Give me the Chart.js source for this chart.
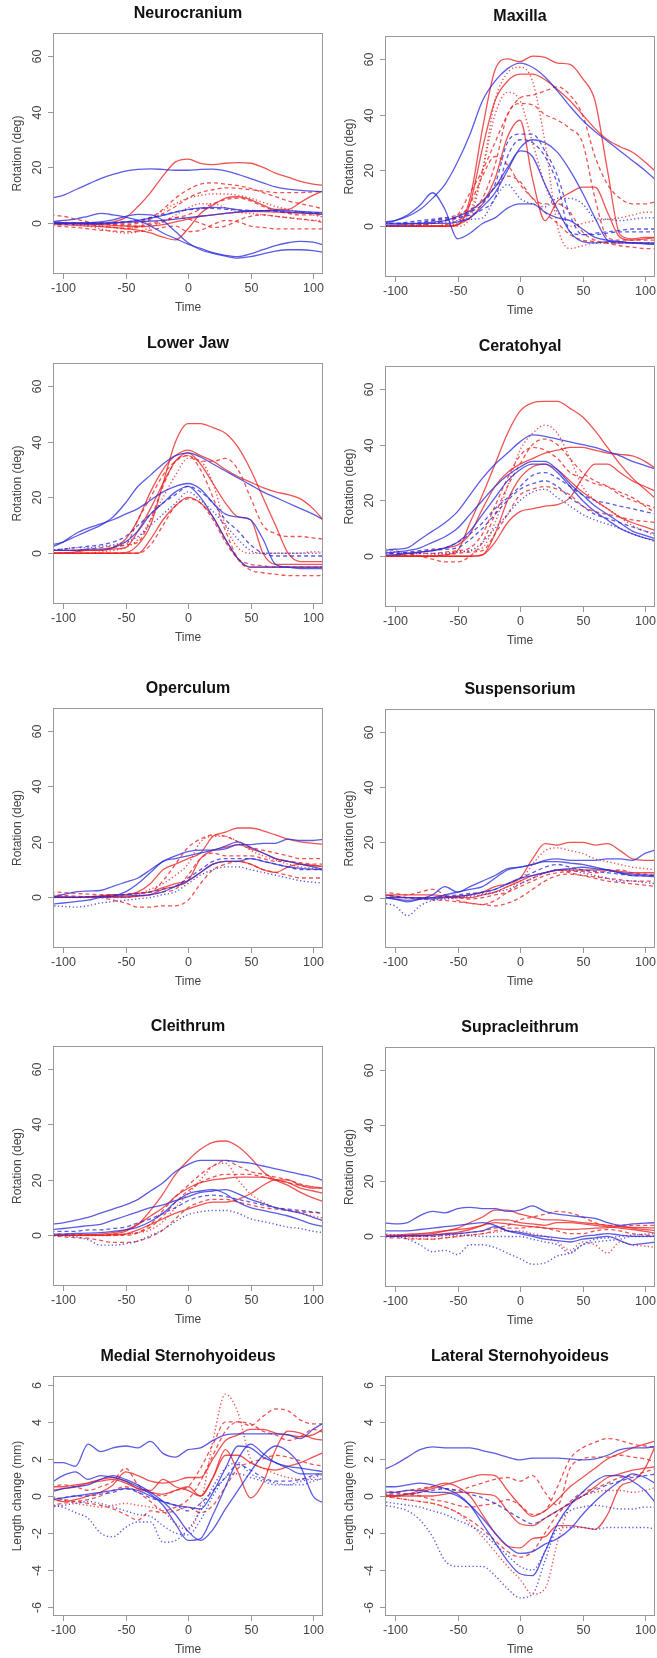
<!DOCTYPE html>
<html>
<head>
<meta charset="utf-8">
<script src="https://cdn.jsdelivr.net/npm/chart.js@4.4.1/dist/chart.umd.min.js"></script>
<style>
  body { margin: 0; background: #fff; }
  #page { position: relative; width: 657px; height: 1658px; overflow: hidden; }
  #page canvas { position: absolute; }
</style>
</head>
<body>
<div id="page"></div>
<script>
// time axis shared by every trace (ms relative to peak gape)
const TIME = [-110, -100, -90, -80, -70, -60, -50, -40, -30, -20, -10, 0, 10, 20, 30, 40, 50, 60, 70, 80, 90, 100, 110];
const TIME_TICKS = [-100, -50, 0, 50, 100];
const ROT_TICKS = [0, 20, 40, 60];
const LEN_TICKS = [-6, -4, -2, 0, 2, 4, 6];

// group codes: R = red fish, B = blue fish; 1/2/3 = individual (solid / dashed / dotted)
const neurocraniumGroups = ['B1', 'B1', 'B1', 'B1', 'B1', 'B2', 'R1', 'R1', 'R1', 'R2', 'R2', 'R2', 'R2', 'R2', 'R3', 'R3'];
const neurocraniumValues = [
  [9, 10, 12, 14, 16, 17.5, 18.7, 19.3, 19.5, 19.3, 19, 19, 19.3, 19.4, 18.8, 17.5, 16, 14.5, 13, 12.2, 11.8, 11.5, 11.3],
  [0.5, 1, 1.5, 2.5, 3.5, 3, 2.2, 1, -1, -3.5, -5.5, -7.5, -9, -10.5, -11.5, -12, -11, -9.5, -8, -7, -6.5, -6.8, -8],
  [0, 0, 0, 0.2, 0.5, 1.2, 2.5, 3.2, 3, 1, -3, -7, -9.5, -10.8, -11.8, -12.5, -12, -11, -10, -9.5, -9.5, -9.8, -10.5],
  [0, 0, -0.2, -0.3, -0.3, 0, 0.5, 1, 1.8, 2.8, 4, 5, 5.5, 5.7, 5.5, 4.8, 4.3, 4.5, 4.8, 4.5, 4.2, 4, 3.8],
  [0, 0, 0, 0, 0, 0.2, 0.4, 0.5, 0.8, 1, 1.5, 2, 2.5, 3, 3.5, 4, 4.5, 4.5, 4.5, 4, 3.8, 3.5, 3],
  [-0.5, -0.5, -0.3, 0, 0, 0.2, 0.5, 1, 2, 3, 4, 4.8, 5.2, 5.3, 5, 4.8, 4.6, 4.5, 4.3, 4, 4, 3.8, 3.6],
  [0, 0, 0, 0, 0, 0.5, 2, 6, 11, 17, 22, 23, 21.5, 21, 21.5, 21.7, 21.5, 20, 18, 16.5, 15, 14, 13.5],
  [-0.5, -0.5, -0.8, -1, -1.2, -1.5, -2, -2.5, -3.5, -5, -6, -2, 3.5, 6.5, 9, 9.5, 8.5, 6.5, 5, 5, 7.5, 10, 12],
  [0.3, 0.2, 0, -0.2, -0.5, -0.8, -1, -1.2, -1, -0.5, 0.5, 1.5, 2.5, 3, 3.5, 4, 4.2, 4.2, 4, 3.8, 3.6, 3.5, 3.3],
  [0, 0, 0, 0, 0, 0, 0, 0.5, 2, 5, 9, 12, 14, 14.5, 14, 13.5, 12.5, 11, 9.5, 8, 7, 6, 5],
  [0, 0, 0, 0, -0.2, -0.5, -0.5, 0, 1.5, 3.5, 6, 9, 11, 12, 12.7, 12.5, 12, 11.5, 11, 11, 11, 11.2, 11.5],
  [0.5, 0.3, 0, -0.5, -1, -1.5, -1.8, -1.5, -0.5, 0.5, 2, 3, 5, 7, 8.5, 9, 8, 6, 4.5, 3.5, 3, 3, 3],
  [-1, -1.2, -1.5, -2, -2.5, -2.8, -3, -3, -2.5, -1.5, -1, -3, -2.5, -0.5, 1, 0.5, -1, -1.5, -2, -2, -2, -2, -2],
  [3, 2.5, 1.5, 0.5, 0, -0.5, -1, -1, 0, 1, 2, 1.5, 0, -1.5, -1, 1, 2.5, 3, 2.5, 2, 1.5, 1, 0],
  [0, 0, -0.3, -0.5, -1, -1.5, -2, -1, 1.5, 4.5, 7, 9, 10, 10.5, 10.5, 10, 9, 7.5, 6, 5, 4, 3, 2],
  [0, 0, -0.5, -1, -2, -3, -3.5, -3, -1.5, 0.5, 3, 5.5, 7, 7, 5.5, 4, 3.5, 3, 2.5, 2, 1.5, 1, 1]
];

const maxillaGroups = ['B1', 'B1', 'B1', 'B1', 'B2', 'B2', 'B3', 'R1', 'R1', 'R1', 'R2', 'R2', 'R2', 'R2', 'R3', 'R3'];
const maxillaValues = [
  [1.5, 2, 3.5, 6, 10, 15, 23, 33, 45, 52, 56.5, 58.5, 57, 53.5, 48.5, 43, 38, 34, 30.5, 27, 23.5, 20, 16],
  [1, 2, 4, 7.5, 12, 6, -4.5, -2.5, 1, 3, 6.5, 8, 8, 5, 3, 2, -1, -4, -5, -5.5, -6, -6.3, -6.5],
  [1, 1, 1, 1, 1, 1, 1.5, 3, 7, 12, 20, 28, 31, 30, 26.5, 20, 12, 3, -5, -6, -6, -6.2, -6.5],
  [0.5, 0.5, 0.8, 1, 1.5, 2, 3.5, 5.5, 9, 14, 21, 27, 25, 15, 6, -2, -5.5, -6, -5.5, -5.5, -6, -6, -6],
  [1, 1, 1.5, 2, 2.5, 3, 3, 5, 8, 15, 30, 33, 33, 27, 18, 4, -3, -3, -2.5, -2, -2, -2, -2],
  [1, 1, 1, 1.5, 2, 2.5, 3, 4, 6, 10, 25, 31, 30, 25, 15, -2, -3, -2.5, -2, -1.5, -1, -1, -1],
  [0, 0, 0, 0.5, 1, 1.5, 2, 2.5, 3, 10, 15, 10, 8, 7, 10, 10, 8, 3, 2.5, 2, 2.5, 3, 3],
  [0, 0, 0, 0, 0, 0, 0.5, 10, 35, 56, 60, 59, 61, 60.5, 58.5, 58, 53, 45, 20, -3, -4.5, -4, -4],
  [0, 0, 0, 0, 0, 0, 0.5, 8, 28, 45, 52, 54.5, 54.5, 52.5, 49, 45, 40, 35, 31, 28.5, 26.5, 23, 19],
  [0, 0, 0, 0, 0, 0, 0.5, 3, 8, 17, 32, 38, 17, 2, 9, 12, 14, 14, 5, -4, -5, -4.5, -4],
  [0, 0, 0, 0.5, 1, 2, 4, 12, 20, 30, 40, 46, 47, 48.5, 50, 47, 40, 25, 15, 10, 8, 8, 9],
  [0, 0, 0, 0, 0, 0.5, 2, 5, 10, 22, 40, 44, 43.5, 40, 38, 35, 30, 10, -4, -5, -5, -5, -5],
  [0, 0, 0.5, 1, 2, 3, 4, 6, 9, 14, 18, 16, 10, 8, 8, 5, -2, -5, -6, -7, -7.5, -8, -8],
  [0, 0, 0, 0.5, 1, 2, 3, 8, 18, 25, 22, 15, 10, 5, 1, -3, -5, -5.5, -6, -6, -6, -6, -6],
  [0, 0, 0, 0, 0, 0, 0, 3, 20, 45, 55, 57, 52, 30, 0, -8, -7, -6, -6, -6, -6, -6, -6],
  [0, 0, 0, 0, 0, 0.5, 1, 5, 20, 40, 48, 45, 30, 15, 5, 0, 1, 2, 2.5, 3, 4, 5, 5]
];

const lowerJawGroups = ['B1', 'B1', 'B1', 'B2', 'B3', 'R1', 'R1', 'R1', 'R1', 'R2', 'R2', 'R2', 'R3'];
const lowerJawValues = [
  [3, 4, 6, 8, 10, 13, 18, 24, 28, 32, 35, 36, 34.5, 32, 29.5, 27, 24.5, 22, 20, 18, 16, 14, 11.5],
  [2, 4, 7, 9, 10.5, 12, 14, 16, 19, 22, 24, 25, 23, 18, 14, 13, 12, 5, -4, -5, -5.5, -5.5, -5.5],
  [1, 1, 1, 1.5, 1.5, 2, 4, 8, 14, 18, 22, 24, 20, 13, 5, -2, -5, -5, -5, -5, -5, -5, -5],
  [1, 1.5, 2, 2.5, 3, 4, 6, 10, 14, 18, 21, 24, 22, 18, 12, 8, 3, 0, -1, -1, -1, -1, -1],
  [1, 1.5, 2, 2, 2.5, 3, 4, 6, 10, 14, 18, 22, 19, 15, 10, 5, 1, 0, 0, 0, 0, 0.5, 0.5],
  [0, 0, 0, 0, 0, 0, 0.2, 3, 10, 25, 40, 46.5, 46.5, 45, 43, 38, 30, 20, 10, 0, -3, -3, -3],
  [1, 1, 1, 1, 1, 2, 5, 12, 22, 30, 35, 37, 35, 33, 30, 27.5, 25.5, 23.5, 22, 21, 19.5, 16, 11],
  [0, 0, 0, 0, 0, 0, 0, 0, 5, 12, 17, 20, 18, 13, 5, -2, -5, -5, -5, -5, -5, -5, -5],
  [0, 0, 0.5, 1, 1, 1.5, 2, 8, 16, 25, 33, 36, 32, 25, 18, 13, 12, 0, -4, -4, -4, -4, -4],
  [1, 1, 1, 1.5, 2, 2.5, 3, 12, 20, 28, 33, 35, 33, 33, 34, 30, 20, 10, 7, 6, 6, 5.5, 5],
  [1, 1, 1, 1, 1, 2, 3, 4, 12, 24, 33, 35, 30, 20, 8, -2, -6, -7, -7.5, -8, -8, -8, -8],
  [0, 0, 0, 0, 0, 0, 0, 0, 3, 10, 17, 19.5, 18, 12, 4, -2, -4, -4.5, -5, -5, -5, -5, -5],
  [0, 0, 0, 0, 0.5, 1, 2, 5, 12, 20, 28, 34, 33, 25, 10, 2, 0, 0, 0, 0, 0, 0, 0]
];

const ceratohyalGroups = ['B1', 'B1', 'B1', 'B2', 'B2', 'B3', 'R1', 'R1', 'R1', 'R1', 'R2', 'R2', 'R2', 'R3'];
const ceratohyalValues = [
  [2, 2.5, 3, 6, 9, 12, 16, 22, 28, 33, 37, 41, 43.5, 43, 42, 41, 40, 39, 37.5, 36, 34, 32.5, 31],
  [1, 1.5, 2, 3, 5, 7, 10, 15, 20, 25, 29, 32, 34, 34, 31, 26, 22, 18, 15, 12, 9, 7.5, 6],
  [0.5, 0.5, 1, 1.5, 2, 3, 5, 9, 15, 21, 27, 31, 33, 33, 30, 25, 20, 16, 13, 10, 8, 6.5, 5.5],
  [1, 1, 1.5, 2, 2.5, 3, 5, 8, 12, 17, 21, 25, 29, 30, 28, 25, 22, 20, 19, 18, 17, 16, 15],
  [1, 1, 1, 1.5, 2, 2.5, 3, 6, 10, 15, 20, 24, 26, 27, 25, 21, 18, 15, 13.5, 12, 10.5, 9, 8],
  [1.5, 1.5, 1, 1, 1, 1, 1.5, 2, 5, 10, 15, 20, 23, 24, 21, 18, 15, 13, 11.5, 10, 8, 6.5, 5],
  [0, 0, 0, 0, 0, 0.5, 2, 12, 22, 33, 44, 52, 55, 55.5, 55.5, 53, 50, 45, 39, 33, 28, 24, 20],
  [0, 0.5, 1, 1.5, 2, 3, 4, 8, 17, 25, 30, 33, 35, 37, 38, 39, 39, 38, 37, 36.5, 36, 34, 31],
  [0, 0, 0, 0, 0, 0, 0, 0, 0.5, 5, 12, 16, 17, 18, 18.5, 21, 28, 33, 33, 30, 27, 25, 23],
  [0, 0, 0, 0, 0, 0, 0, 0, 0.5, 8, 20, 28, 32, 33, 31, 27, 23, 20, 17, 14, 12, 10.5, 9],
  [3, 2, 1, 0, -1, -2, -2, 0, 5, 15, 25, 33, 40, 42, 40, 35, 30, 27, 25, 22, 20, 18.5, 17],
  [0, 0, 0.5, 1, 1, 1.5, 2, 3, 8, 18, 28, 36, 39, 38, 35, 30, 28, 26, 25, 23, 21, 18, 15],
  [0, 0, 0, 0, 0, 0.5, 1, 1.5, 2, 8, 15, 22, 24, 25, 24, 22, 18, 16, 15, 14, 13, 12.5, 12],
  [0, 0, 0, 0, 0.5, 1, 1.5, 2, 3, 12, 25, 38, 44, 47, 44, 35, 25, 20, 17, 14, 11, 9, 7]
];

const operculumGroups = ['B1', 'B1', 'B1', 'B2', 'B3', 'R1', 'R1', 'R1', 'R2', 'R2', 'R2', 'R3'];
const operculumValues = [
  [0, 1, 2, 2.3, 2.5, 4, 5.5, 7, 10, 13, 15, 16.5, 17, 17, 17.5, 19, 19, 19.5, 19.5, 21, 20.5, 20.5, 21],
  [-2.5, -2, -1.5, -1, 0, 0.5, 2, 5, 9, 13, 14, 15, 16, 17, 18.5, 20, 18, 16, 14, 13, 12, 11, 10],
  [0, 0, 0, 0.2, 0.3, 0.4, 0.5, 0.7, 1, 2, 4, 6, 9, 12, 13, 13, 14, 13, 12, 11, 10.5, 10.2, 10],
  [0, 0, 0, 0.3, 0.5, 0.7, 1, 1.5, 2, 3, 4, 7, 10, 13, 14, 14, 14, 13, 12, 11, 10, 10, 10],
  [-3, -3.2, -3.5, -3, -2, -1.5, -1, -0.5, 0, 1, 2, 5, 8, 10, 11, 11, 10, 9, 8, 7, 6, 5.5, 5],
  [0.5, 0.3, 0, 0.2, 0.5, 0.8, 1, 2, 5, 10, 12, 14, 16, 22, 23.5, 25, 25, 24, 22.5, 21, 20, 19.5, 19],
  [0, 0, 0, 0, 0, 0, 0, 0.5, 1, 3, 4, 6, 14, 17, 18, 19, 17.5, 16, 14, 13, 12, 11.5, 11],
  [0, 0, 0, 0, 0.5, 1, 1, 1.5, 2, 3.5, 5, 6, 9, 12, 13, 13, 12, 10, 9, 11, 12, 11.5, 11],
  [2, 1.8, 1.5, 1.2, 1, 1, 1, 1.5, 2, 6, 12, 18, 21, 22.5, 22, 20, 18, 17, 16, 15, 14, 14, 14],
  [1, 0.8, 0.5, 0.2, 0, -1, -2, -3.5, -3.5, -3, -3, -1, 5, 10, 12, 13, 12, 10, 9, 8, 7, 7, 7],
  [0, 0, 0, 0, 0, 0, 0, 0.5, 1, 2, 3, 8, 14, 16, 15, 15, 15, 14, 13, 13, 12.5, 12, 12],
  [0, 0, 0, 0, 0, 0, 0, 1, 3, 5, 8, 12, 20, 22, 22, 20, 17, 15, 13.5, 12, 11, 10.5, 10]
];

const suspensoriumGroups = ['B1', 'B1', 'B1', 'B2', 'B3', 'R1', 'R1', 'R2', 'R2', 'R2', 'R3'];
const suspensoriumValues = [
  [0.5, -0.5, -1.5, -0.5, 1, 4, 2, 4, 6, 8, 10.5, 11, 12, 13.5, 14, 13.5, 13.5, 13.5, 14, 14, 13.5, 16, 17.5],
  [0, -0.5, -1, -0.5, 0, 1, 2, 3, 4, 7, 10, 11, 12, 13, 13, 12.5, 12, 11, 10, 9, 8, 7.8, 7.5],
  [0, 0, 0, -0.3, -0.5, 0, 0.5, 1, 2, 3, 5, 7, 8, 9, 10, 10.5, 11, 10.5, 10, 9, 8.5, 8.2, 8],
  [1, 0.5, 0, 0, 0, 0.5, 1, 1.5, 2, 3, 5, 7, 9, 11, 12, 11, 10, 9.5, 9, 8.5, 8, 8, 8],
  [-2, -3, -6.5, -3, -1, -0.5, 0, 0.5, 1, 2, 3, 5, 7, 9, 10, 10, 9, 8, 7, 6, 6, 5.5, 5],
  [1, 0.5, 0, 0, 0, 0.3, 0.5, 1, 2, 4, 5, 7, 14, 19.5, 19, 20, 20, 19, 19.5, 17, 14, 13.5, 13.5],
  [1, 1, 1, 1, 1, 0.5, 0, 0, 1, 2, 4, 6, 8, 9, 10, 10, 10, 10, 10, 9.5, 9, 9, 9],
  [2, 1.5, 1, 2, 3, 1, -1, -2, -2.5, -1, 2, 5, 7, 9, 10, 9, 8, 7, 6, 5.5, 5, 4.5, 4],
  [1, 0.5, 0, -0.5, -0.8, -1, -1.5, -2, -2.5, -3, -2, 0, 3, 6, 8, 8.5, 8, 7.5, 7, 6.5, 6, 6, 6],
  [0, 0, 0, 0, 0, 0, 0, -0.5, 0, 1, 2, 4, 6, 8, 9, 9.5, 9.5, 9, 9.5, 10, 9, 8.5, 8],
  [0, 0, 0, 0, 0, 0, 0, 1, 1.5, 2, 4, 6, 12, 17, 18, 17, 16, 14, 13, 12, 11, 10.5, 10]
];

const cleithrumGroups = ['B1', 'B1', 'B1', 'B2', 'B3', 'R1', 'R1', 'R1', 'R2', 'R2', 'R2', 'R3'];
const cleithrumValues = [
  [4, 4.5, 5.5, 6.5, 8, 9.5, 11, 13, 16, 19, 23, 25.5, 27, 27, 27, 26.5, 26, 25, 24, 23, 22, 21, 19.5],
  [2, 2.5, 3, 3.5, 4, 5.5, 7, 8.5, 10, 11, 12.5, 14, 15.5, 16, 16.5, 15, 13, 11.5, 10, 9, 8, 6.5, 5],
  [0.5, 0.5, 0.7, 0.8, 1, 1.5, 2, 3, 5, 8, 12, 15, 16, 16.5, 15, 12, 10, 9, 8, 7, 5.5, 4, 3],
  [1.5, 1.5, 1.5, 2, 2, 2.5, 3, 4.5, 6, 8, 10, 12.5, 14, 14.5, 14, 13, 12, 11, 10, 9.5, 9, 8.5, 8],
  [0, 0, -0.5, -1.5, -3.5, -3.5, -3, -2, 0, 2, 5, 7.5, 8.5, 9, 9, 8, 6, 5, 4, 3, 2.5, 1.5, 1],
  [0, 0, 0, 0, 0, 0.5, 1.5, 4, 9, 15, 22, 27, 31, 33.5, 34, 32, 28, 23, 20, 18, 15.5, 13.5, 12],
  [0, 0, 0, 0, 0, 0.2, 0.5, 2, 4, 6, 8, 9.5, 11, 12, 12, 13, 15, 18, 20, 20, 18, 17, 17],
  [0, 0, 0, 0.3, 0.5, 1, 2, 4, 7, 10, 14, 17, 19, 20, 20.5, 21, 21, 21, 20, 19, 17, 16, 15],
  [0.5, 0.5, 0.3, 0.2, 0, 0, 0, 1, 4, 9, 14, 18, 22, 25, 27, 25, 23, 22, 21, 20, 18.5, 17.5, 17],
  [0, -0.5, -0.8, -1, -1.8, -2.5, -2.5, -2, -0.5, 2, 6, 10, 12, 13, 13, 12, 11, 10, 9.5, 9, 8.5, 8.2, 8],
  [0, 0, 0, 0, 0, 0.3, 0.5, 1, 3, 7, 12, 16, 19, 21, 22, 22, 22, 21, 20, 19, 18, 17.5, 17],
  [0, 0, 0, 0, 0, 0, 0.5, 1, 2, 5, 10, 15, 20, 25, 26, 20, 15, 12, 10, 9, 8, 7, 6]
];

const supracleithrumGroups = ['B1', 'B1', 'B1', 'B3', 'B3', 'R1', 'R1', 'R1', 'R2', 'R2', 'R3'];
const supracleithrumValues = [
  [5, 4.5, 5, 7.5, 9, 8.5, 10, 10.5, 10, 10, 9, 9.5, 11, 9, 8, 7.5, 7, 6.5, 5, 4, 4.5, 4.8, 5],
  [2, 2, 2, 2.5, 3, 3.5, 4, 4.5, 5, 4, 2, 1, 0, -1, -1.5, -2, -1, -0.5, 0, -1.5, -3, -2.5, -2],
  [0, 0, 0.2, 0.3, 0.5, 0.8, 1, 1.5, 2, 3.5, 2, 1.5, 0.5, 0, -0.5, -1, 0, 0.5, 1, 0.5, 0, 0, 0],
  [0, 0, -1, -3, -5.5, -5, -6.5, -3, -3, -4, -6, -8, -10, -9.5, -7, -6, -3, -2, -1.5, -1, 0, 0, 0],
  [1, 0.5, 0.3, 0, 0, 0.3, 0.5, 0.3, 0, 0, 0, 0, -1, -2, -3, -6, -3, -1, -0.5, 0, 0.5, 0.8, 1],
  [0, 0.3, 0.5, 0.8, 1, 2, 3, 5, 7, 9.5, 9.5, 8, 7, 6, 6, 5.5, 5, 4.5, 4, 3.5, 3, 2.5, 2],
  [0, 0, 0.2, 0.3, 0.5, 1, 1.5, 2.5, 4, 6, 6, 5, 4.5, 4, 5, 5, 4.5, 4, 3.5, 3, 2.5, 1.8, 1],
  [0.5, 0.5, 0.8, 1, 1.5, 2, 2.5, 3, 4, 5, 4.5, 4, 3.5, 3, 2.8, 2.5, 2.7, 3, 3.2, 3.5, 3.3, 3.2, 3],
  [0, 0, 0, 0, 0, 0.5, 1, 1.5, 2, 3, 4, 6, 7, 8, 9, 8.5, 7, 5, 4, 4, 4, 4, 4],
  [-0.5, -0.5, -0.8, -1, -1, -0.5, 0, 0.5, 1, 2, 3, 3, 3.5, 3, 2, 1, 1, 2, 2.5, 2, 1, 0.5, 0],
  [0, 0, -0.5, -0.8, -1, -0.5, 0, 0.5, 1, 1.5, 2, 2, 1, 0, -2, -5, -2, -3, -6, -2, -3, -3.5, -4]
];

const medialGroups = ['B1', 'B1', 'B1', 'B1', 'B2', 'B3', 'B3', 'R1', 'R1', 'R1', 'R2', 'R2', 'R2', 'R3'];
const medialValues = [
  [1.8, 1.8, 1.6, 2.8, 2.4, 2.6, 2.7, 2.6, 2.95, 2.3, 2.1, 2.5, 2.6, 3.0, 3.3, 3.35, 3.35, 3.35, 3.35, 3.3, 3.1, 3.6, 4.0],
  [0.7, 1.1, 1.3, 0.9, 1.1, 1.0, 0.8, 0.5, 0.1, -0.5, -1.5, -2.4, -2.3, -1.0, 0.5, 2.0, 2.8, 2.3, 1.8, 1.6, 1.5, 1.4, 1.3],
  [0.2, 0.4, 0.5, 0.6, 0.9, 1.1, 0.9, 0.6, 0.2, -0.3, -1.0, -1.9, -2.4, -1.8, -0.7, 0.3, 1.3, 2.2, 2.7, 2.4, 1.6, 0.0, -0.4],
  [-0.2, -0.1, 0.0, 0.1, 0.2, 0.3, 0.4, 0.3, 0.0, -0.3, -0.5, -0.6, -0.7, 0.2, 1.5, 2.7, 2.6, 2.1, 1.8, 1.5, 1.2, 1.2, 1.2],
  [-0.2, -0.1, 0.0, 0.0, 0.1, 0.2, 0.4, 0.2, -0.1, -0.3, -0.5, -0.8, -0.4, 0.3, 1.0, 1.7, 1.4, 1.0, 0.8, 0.8, 0.9, 1.1, 1.2],
  [-0.5, -0.6, -0.9, -1.2, -2.0, -2.2, -1.7, -1.4, -1.4, -2.5, -2.4, -1.8, -0.8, 0.5, 1.5, 1.8, 1.2, 0.9, 0.7, 0.6, 0.6, 0.8, 1.0],
  [-0.6, -0.5, -0.4, -0.3, -0.4, -0.6, -0.8, -1.0, -1.1, -1.6, -2.0, -2.1, -1.3, 0.0, 1.0, 1.2, 1.0, 0.8, 0.6, 0.6, 0.8, 0.9, 0.9],
  [-0.1, -0.3, -0.2, 0.0, 0.2, 0.6, 1.3, 1.1, 0.8, 0.7, 0.8, 1.0, 1.0, 2.0, 3.0, 3.3, 3.6, 3.6, 3.4, 3.3, 3.2, 3.3, 3.7],
  [0.3, 0.4, 0.5, 0.7, 0.9, 1.0, 0.8, 0.4, 0.3, 0.9, 0.5, 0.3, 0.0, 1.0, 2.5, 1.3, -0.1, 0.7, 2.5, 3.5, 3.4, 3.1, 3.0],
  [0.5, 0.5, 0.6, 0.7, 0.8, 0.9, 0.7, 0.4, 0.2, 0.1, 0.3, 0.5, 0.0, 1.0, 2.2, 2.2, 1.8, 1.5, 1.4, 1.6, 1.8, 2.1, 2.4],
  [-0.5, -0.4, -0.3, -0.2, 0.0, 0.3, 0.5, 0.2, -0.3, -0.8, -0.6, -0.2, 0.8, 2.2, 3.5, 4.0, 3.8, 4.3, 4.7, 4.6, 4.1, 3.9, 3.9],
  [0.5, 0.6, 0.5, 0.3, 0.5, 0.8, 1.5, 0.6, 0.2, 0.0, 0.3, 0.5, 1.5, 2.8, 4.0, 4.0, 3.9, 3.5, 3.3, 3.0, 3.2, 3.6, 3.4],
  [-0.3, -0.2, -0.3, -0.4, -0.5, -0.7, -1.0, -1.3, -0.8, -0.9, -0.8, -0.6, -0.9, -0.5, 0.5, 1.5, 1.8, 2.0, 2.2, 2.1, 1.9, 1.7, 1.6],
  [0.0, -0.2, -0.4, -0.5, -0.6, -0.5, -0.4, -0.5, -0.6, -0.8, -1.5, -1.8, -0.5, 3.0, 5.5, 4.5, 2.0, 1.5, 1.2, 1.0, 0.9, 1.0, 1.2]
];

const lateralGroups = ['B1', 'B1', 'B1', 'B2', 'B3', 'B3', 'R1', 'R1', 'R1', 'R2', 'R2', 'R2', 'R3'];
const lateralValues = [
  [1.4, 1.7, 2.1, 2.5, 2.65, 2.6, 2.6, 2.6, 2.45, 2.3, 2.1, 1.95, 2.05, 2.05, 2.05, 2.0, 1.95, 2.0, 2.2, 2.5, 2.6, 2.6, 2.7],
  [0.5, 0.5, 0.6, 0.7, 0.6, 0.4, 0.1, -0.5, -1.5, -2.5, -3.5, -4.2, -4.3, -3.0, -1.5, -0.5, 0.2, 0.8, 1.1, 1.1, 0.8, 0.3, -0.5],
  [0.2, 0.2, 0.3, 0.3, 0.2, 0.2, 0.0, -0.5, -1.2, -2.0, -2.7, -3.1, -3.0, -2.6, -2.3, -1.8, -1.0, -0.3, 0.3, 0.8, 1.2, 1.0, 0.6],
  [0.1, 0.1, 0.1, 0.2, 0.3, 0.4, 0.3, 0.1, -0.1, -0.4, -0.8, -1.2, -1.5, -1.2, -0.8, -0.4, 0.0, 0.3, 0.6, 0.8, 1.0, 1.1, 1.2],
  [-0.5, -0.6, -0.8, -1.3, -2.2, -3.5, -3.8, -3.8, -3.8, -4.3, -5.0, -5.5, -5.3, -3.5, -1.8, -1.7, -1.7, -1.8, -1.7, -1.7, -1.7, -1.7, -1.8],
  [-0.3, -0.4, -0.5, -0.6, -0.8, -1.0, -1.3, -1.6, -2.0, -2.6, -3.2, -3.8, -4.0, -3.0, -1.5, -0.8, -0.6, -0.5, -0.6, -0.7, -0.7, -0.6, -0.6],
  [0.1, 0.0, 0.1, 0.2, 0.4, 0.6, 0.8, 1.0, 1.15, 1.1, 0.3, -0.5, -1.1, -0.8, -0.2, 0.5, 1.0, 1.5, 2.0, 2.3, 2.6, 2.8, 3.0],
  [0.0, 0.0, 0.1, 0.3, 0.5, 0.7, 0.5, 0.0, -1.0, -2.0, -2.7, -2.8, -2.3, -2.2, -1.6, -1.6, -1.7, -1.8, -1.0, 0.5, 0.8, 1.5, 3.0],
  [0.0, 0.0, 0.0, 0.0, 0.0, 0.1, 0.2, 0.2, 0.1, 0.0, -0.8, -1.5, -1.6, -1.2, -0.8, -0.4, 0.0, 0.5, 1.0, 1.2, 1.4, 1.5, 1.6],
  [0.3, 0.2, 0.1, 0.0, -0.2, -0.3, -0.5, -0.6, -0.5, -0.4, -0.2, -0.5, -1.0, -0.8, 0.5, 2.0, 2.6, 2.9, 3.1, 3.0, 2.8, 2.7, 2.6],
  [0.1, 0.2, 0.3, 0.4, 0.5, 0.4, 0.3, 0.5, 0.7, 0.9, 1.0, 0.8, 1.1, 0.2, -0.5, 1.5, 2.0, 2.1, 2.1, 2.2, 2.1, 2.0, 1.8],
  [0.0, -0.1, -0.2, -0.3, -0.4, -0.6, -0.9, -1.3, -1.8, -2.4, -3.0, -3.3, -3.0, -2.0, -1.0, -0.3, 0.2, 0.4, 0.7, 1.0, 1.1, 1.3, 1.5],
  [0.0, -0.1, -0.2, -0.3, -0.4, -0.6, -0.9, -1.5, -2.2, -3.0, -3.8, -4.5, -5.3, -5.0, -2.5, -0.5, 0.0, 0.2, 0.3, 0.3, 0.2, 0.3, 0.5]
];

// panel layout: [name, groups, values, y ticks, y label, column, plot top, plot bottom]
const ROTATION_RANGE = [-18.2, 68.2];
const LENGTH_RANGE = [-6.48, 6.48];
const panels = [
  ['Neurocranium', neurocraniumGroups, neurocraniumValues, ROT_TICKS, 'Rotation (deg)', 0, 33, 274],
  ['Maxilla', maxillaGroups, maxillaValues, ROT_TICKS, 'Rotation (deg)', 1, 36, 277],
  ['Lower Jaw', lowerJawGroups, lowerJawValues, ROT_TICKS, 'Rotation (deg)', 0, 363, 604],
  ['Ceratohyal', ceratohyalGroups, ceratohyalValues, ROT_TICKS, 'Rotation (deg)', 1, 366, 607],
  ['Operculum', operculumGroups, operculumValues, ROT_TICKS, 'Rotation (deg)', 0, 708, 948],
  ['Suspensorium', suspensoriumGroups, suspensoriumValues, ROT_TICKS, 'Rotation (deg)', 1, 709, 948],
  ['Cleithrum', cleithrumGroups, cleithrumValues, ROT_TICKS, 'Rotation (deg)', 0, 1046, 1286],
  ['Supracleithrum', supracleithrumGroups, supracleithrumValues, ROT_TICKS, 'Rotation (deg)', 1, 1047, 1287],
  ['Medial Sternohyoideus', medialGroups, medialValues, LEN_TICKS, 'Length change (mm)', 0, 1376, 1616],
  ['Lateral Sternohyoideus', lateralGroups, lateralValues, LEN_TICKS, 'Length change (mm)', 1, 1376, 1616]
];

const FONT = '"Liberation Sans", Arial, Helvetica, sans-serif';
const groupStyle = {
  R: 'rgba(235, 35, 35, 0.78)',
  B: 'rgba(45, 45, 220, 0.78)'
};
const groupDash = { '1': [], '2': [4, 3], '3': [1.3, 2.4] };

// draws the R-style frame: box, outward ticks, rotated y labels, titles
const rFrame = {
  id: 'rFrame',
  afterDatasetsDraw(chart, args, opts) {
    const { ctx, chartArea: a, scales: { x, y } } = chart;
    ctx.save();
    ctx.strokeStyle = '#999';
    ctx.lineWidth = 1;
    ctx.strokeRect(Math.round(a.left) + 0.5, Math.round(a.top) + 0.5,
      Math.round(a.right - a.left) - 1, Math.round(a.bottom - a.top) - 1);

    ctx.fillStyle = '#444';
    ctx.font = '12.5px ' + FONT;
    ctx.textAlign = 'center';
    ctx.textBaseline = 'middle';
    x.ticks.forEach(t => {
      const px = Math.round(x.getPixelForValue(t.value)) + 0.5;
      ctx.beginPath(); ctx.moveTo(px, a.bottom); ctx.lineTo(px, a.bottom + 5); ctx.stroke();
      ctx.fillText(String(t.value), px, a.bottom + 15);
    });
    y.ticks.forEach(t => {
      const py = Math.round(y.getPixelForValue(t.value)) + 0.5;
      ctx.beginPath(); ctx.moveTo(a.left - 5, py); ctx.lineTo(a.left, py); ctx.stroke();
      ctx.save();
      ctx.translate(a.left - 15, py);
      ctx.rotate(-Math.PI / 2);
      ctx.fillText(String(t.value), 0, 0);
      ctx.restore();
    });

    ctx.font = '12px ' + FONT;
    ctx.fillText('Time', (a.left + a.right) / 2, a.bottom + 34);
    ctx.save();
    ctx.translate(a.left - 35, (a.top + a.bottom) / 2);
    ctx.rotate(-Math.PI / 2);
    ctx.fillText(opts.yTitle, 0, 0);
    ctx.restore();

    ctx.fillStyle = '#111';
    ctx.font = 'bold 16px ' + FONT;
    ctx.fillText(opts.title, (a.left + a.right) / 2, a.top - 19);
    ctx.restore();
  }
};

function makePanel([name, groups, values, yTicks, yTitle, col, top, bottom]) {
  const page = document.getElementById('page');
  const canvas = document.createElement('canvas');
  const cLeft = col === 0 ? 0 : 329;
  const plotLeft = col === 0 ? 53 : 385;
  const plotRight = col === 0 ? 323 : 655;
  const padTop = 40, xHeight = 45, width = 328;
  const height = bottom - top + padTop + xHeight;
  canvas.width = width;
  canvas.height = height;
  canvas.style.left = cLeft + 'px';
  canvas.style.top = (top - padTop) + 'px';
  canvas.style.width = width + 'px';
  canvas.style.height = height + 'px';
  page.appendChild(canvas);

  const range = yTicks === ROT_TICKS ? ROTATION_RANGE : LENGTH_RANGE;
  const datasets = values.map((vals, i) => {
    const g = groups[i];
    return {
      label: name + ' ' + g + ' ' + (i + 1),
      data: TIME.map((t, k) => ({ x: t, y: vals[k] })),
      borderColor: groupStyle[g[0]],
      borderDash: groupDash[g[1]],
      borderWidth: g[1] === '3' ? 1.4 : 1.3,
      cubicInterpolationMode: 'monotone',
      pointRadius: 0,
      fill: false
    };
  });

  new Chart(canvas, {
    type: 'line',
    data: { datasets },
    options: {
      responsive: false,
      animation: false,
      devicePixelRatio: 1,
      layout: { padding: { top: padTop, right: cLeft + width - plotRight, left: 0, bottom: 0 } },
      plugins: {
        legend: { display: false },
        tooltip: { enabled: false },
        title: { display: false },
        rFrame: { title: name, yTitle }
      },
      scales: {
        x: {
          type: 'linear', min: -108, max: 108,
          grid: { display: false }, border: { display: false },
          ticks: { display: false },
          afterBuildTicks: s => { s.ticks = TIME_TICKS.map(v => ({ value: v })); },
          afterFit: s => { s.height = xHeight; s.paddingLeft = 0; s.paddingRight = 0; }
        },
        y: {
          type: 'linear', min: range[0], max: range[1],
          grid: { display: false }, border: { display: false },
          ticks: { display: false },
          afterBuildTicks: s => { s.ticks = yTicks.map(v => ({ value: v })); },
          afterFit: s => { s.width = plotLeft - cLeft; s.paddingTop = 0; s.paddingBottom = 0; }
        }
      }
    },
    plugins: [rFrame]
  });
}

function initPage() {
  try {
    panels.forEach(makePanel);
  } catch (e) {
    console.error('Panel error: ' + e.message);
  }
}

document.addEventListener('DOMContentLoaded', initPage);
</script>
</body>
</html>
